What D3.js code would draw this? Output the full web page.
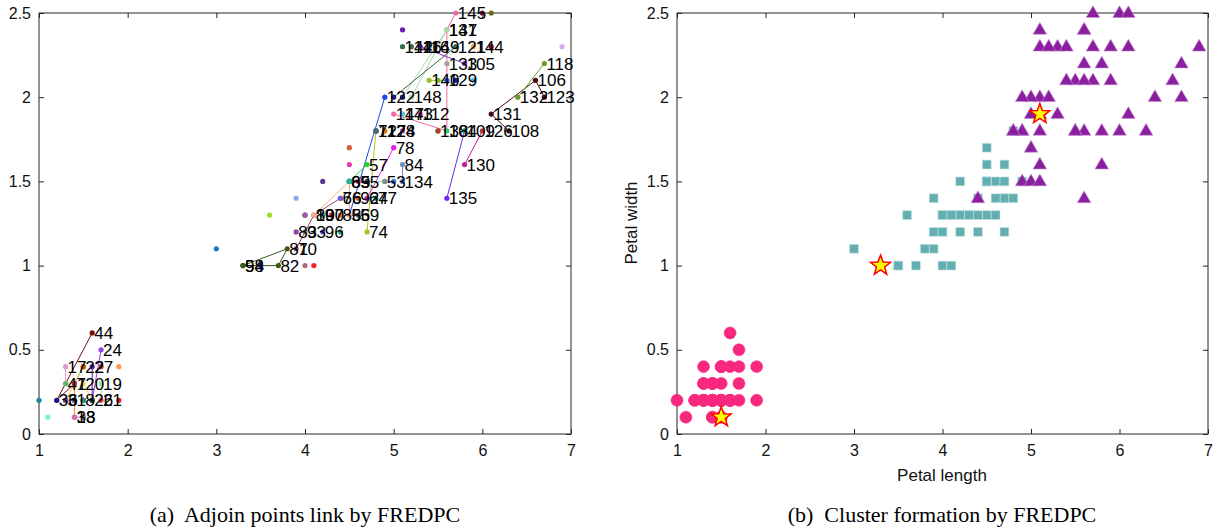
<!DOCTYPE html>
<html>
<head>
<meta charset="utf-8">
<script src="https://cdn.jsdelivr.net/npm/d3@7"></script>
<style>
  body { margin: 0; background: #fff; }
  text { font-family: "Liberation Sans", Arial, sans-serif; }
  .caption { font-family: "Liberation Serif", "Times New Roman", serif; }
</style>
</head>
<body>
<svg id="chart" width="1218" height="531"></svg>
<script>
// iris petal measurements, sample 1..150
const petalLength = [
  1.4,1.4,1.3,1.5,1.4,1.7,1.4,1.5,1.4,1.5, 1.5,1.6,1.4,1.1,1.2,1.5,1.3,1.4,1.7,1.5,
  1.7,1.5,1.0,1.7,1.9,1.6,1.6,1.5,1.4,1.6, 1.6,1.5,1.5,1.4,1.5,1.2,1.3,1.4,1.3,1.5,
  1.3,1.3,1.3,1.6,1.9,1.4,1.6,1.4,1.5,1.4, 4.7,4.5,4.9,4.0,4.6,4.5,4.7,3.3,4.6,3.9,
  3.5,4.2,4.0,4.7,3.6,4.4,4.5,4.1,4.5,3.9, 4.8,4.0,4.9,4.7,4.3,4.4,4.8,5.0,4.5,3.5,
  3.8,3.7,3.9,5.1,4.5,4.5,4.7,4.4,4.1,4.0, 4.4,4.6,4.0,3.3,4.2,4.2,4.2,4.3,3.0,4.1,
  6.0,5.1,5.9,5.6,5.8,6.6,4.5,6.3,5.8,6.1, 5.1,5.3,5.5,5.0,5.1,5.3,5.5,6.7,6.9,5.0,
  5.7,4.9,6.7,4.9,5.7,6.0,4.8,4.9,5.6,5.8, 6.1,6.4,5.6,5.1,5.6,6.1,5.6,5.5,4.8,5.4,
  5.6,5.1,5.1,5.9,5.7,5.2,5.0,5.2,5.4,5.1
];
const petalWidth = [
  0.2,0.2,0.2,0.2,0.2,0.4,0.3,0.2,0.2,0.1, 0.2,0.2,0.1,0.1,0.2,0.4,0.4,0.3,0.3,0.3,
  0.2,0.4,0.2,0.5,0.2,0.2,0.4,0.2,0.2,0.2, 0.2,0.4,0.1,0.2,0.2,0.2,0.2,0.1,0.2,0.2,
  0.3,0.3,0.2,0.6,0.4,0.3,0.2,0.2,0.2,0.2, 1.4,1.5,1.5,1.3,1.5,1.3,1.6,1.0,1.3,1.4,
  1.0,1.5,1.0,1.4,1.3,1.4,1.5,1.0,1.5,1.1, 1.8,1.3,1.5,1.2,1.3,1.4,1.4,1.7,1.5,1.0,
  1.1,1.0,1.2,1.6,1.5,1.6,1.5,1.3,1.3,1.3, 1.2,1.4,1.2,1.0,1.3,1.2,1.3,1.3,1.1,1.3,
  2.5,1.9,2.1,1.8,2.2,2.1,1.7,1.8,1.8,2.5, 2.0,1.9,2.1,2.0,2.4,2.3,1.8,2.2,2.3,1.5,
  2.3,2.0,2.0,1.8,2.1,1.8,1.8,1.8,2.1,1.6, 1.9,2.0,2.2,1.5,1.4,2.3,2.4,1.8,1.8,2.1,
  2.4,2.3,1.9,2.3,2.5,2.3,1.9,2.0,2.3,1.8
];

// cluster found by FREDPC for each sample (1 circle, 2 square, 3 triangle)
const clusterOf = [
  1,1,1,1,1,1,1,1,1,1, 1,1,1,1,1,1,1,1,1,1, 1,1,1,1,1,1,1,1,1,1, 1,1,1,1,1,1,1,1,1,1,
  1,1,1,1,1,1,1,1,1,1, 2,2,2,2,2,2,2,2,2,2, 2,2,2,2,2,3,2,2,2,2, 2,2,3,2,2,2,2,3,2,2,
  2,2,2,3,2,2,2,2,2,2, 2,2,2,2,2,2,2,2,2,2, 3,3,3,3,3,3,2,3,3,3, 3,3,3,3,3,3,3,3,3,3,
  3,3,3,3,3,3,3,3,3,3, 3,3,3,3,3,3,3,3,3,3, 3,3,3,3,3,3,3,3,3,3
];
const centers = [10, 58, 102];

// adjoin links [from, to] (sample numbers)
const adjoinLinks = [
  [44,36],[24,26],[17,41],[27,26],[22,7],[13,7],[19,21],[7,36],[20,31],[16,3],[38,10],
  [58,81],[82,58],[82,81],[70,89],[89,66],[100,52],[56,85],[122,56],[74,71],[57,69],
  [78,64],[84,134],[53,55],[135,109],[130,126],[131,106],[123,106],[108,131],[118,132],
  [145,137],[137,104],[147,104],[116,105],[141,148],[141,111],[121,114],[140,129]
];
const labelled = [
  44,24,17,22,27,41,7,20,19,36,3,1,8,26,21,13,38,
  58,94,82,81,70,83,93,96,89,100,97,88,56,59,66,76,92,64,77,69,85,55,53,134,57,84,78,74,
  71,127,124,128,122,148,147,143,112,138,104,109,126,108,131,132,123,106,118,140,129,133,105,
  142,146,116,149,121,144,137,141,145,130,135
];

const xTicks = [1, 2, 3, 4, 5, 6, 7];
const yTicks = [0, 0.5, 1, 1.5, 2, 2.5];

const palette = ["#3a7bd5","#d9534f","#5cb85c","#8e44ad","#f0ad4e","#1abc9c","#c0392b","#2c3e50",
  "#e67e22","#16a085","#9b59b6","#27ae60","#d35400","#7f8c8d","#2980b9","#e84393","#6c5ce7",
  "#00b894","#b33939","#4b6584"];
const dotOverride = {
  44:"#6e1414",24:"#8f45e8",17:"#e09ad0",27:"#5a20b0",22:"#5aa028",13:"#ff8a30",19:"#a5e88a",
  7:"#700f1f",45:"#ff9a50",25:"#e02030",23:"#1a8aa0",14:"#7af0d8",36:"#101a8a",41:"#d8e8d0",
  20:"#f0e040",10:"#e0a0d0",16:"#f0d060",38:"#d070c0",
  58:"#3d5a1a",82:"#3d5a1a",81:"#3d5a1a",94:"#3a5a20",80:"#4a1ab0",61:"#4a1ab0",63:"#b06a7a",
  68:"#ff2020",99:"#1a7ac8",65:"#98e030",60:"#8aa8f0",62:"#5a3a8a",86:"#e83ab0",107:"#d06030",
  70:"#8a4a6a",89:"#8a4a6a",100:"#f0b090",56:"#f0a080",122:"#1a4ae8",74:"#b8c020",71:"#30c040",
  57:"#2ad82a",78:"#e020e8",64:"#e020e8",84:"#6a8ac8",134:"#6a8ac8",53:"#90e0a0",135:"#6a2af0",
  130:"#c81a9a",131:"#4a0a1a",106:"#4a0a1a",123:"#4a0a1a",108:"#4a0a1a",118:"#6a9a2a",
  132:"#6a9a2a",145:"#f06aa8",137:"#f06aa8",141:"#a8d8a8",147:"#f06aa8",116:"#7a3ac8",
  105:"#7a3ac8",101:"#7a1030",110:"#6a6a10",119:"#d8a8f0",136:"#7a1030",115:"#6a1ab0",
  142:"#3a6a5a",146:"#3a6a5a",121:"#3a6a4a",103:"#50b8e0",125:"#1a1ab0",140:"#98c020",
  113:"#78c020",129:"#2a50f0",133:"#a0a0a0",114:"#1a1a7a",111:"#1a1a7a",148:"#a8d8a8",
  104:"#30d070",117:"#30d070",143:"#60c8e0",112:"#e040a0"
};
const dotColor = n => dotOverride[n] || palette[n % palette.length];

const points = petalLength.map((v, i) => ({ n: i + 1, x: v, y: petalWidth[i], c: clusterOf[i] }));

const svg = d3.select("#chart");
const axisColor = "#262626";

const y = d3.scaleLinear().domain([0, 2.5]).range([434, 13]);
const xa = d3.scaleLinear().domain([1, 7]).range([39, 571]);
const xb = d3.scaleLinear().domain([1, 7]).range([677, 1208]);

function frame(x) {
  const g = svg.append("g");
  const [r0, r1] = x.range();
  g.append("g").attr("transform", "translate(0,434)")
    .call(d3.axisBottom(x).tickValues(xTicks).tickSize(-5).tickSizeOuter(0).tickPadding(11).tickFormat(d3.format("d")));
  g.append("g").attr("transform", "translate(0,13)")
    .call(d3.axisTop(x).tickValues(xTicks).tickSize(-5).tickSizeOuter(0).tickFormat(""));
  g.append("g").attr("transform", `translate(${r0},0)`)
    .call(d3.axisLeft(y).tickValues(yTicks).tickSize(-5).tickSizeOuter(0).tickPadding(8).tickFormat(d => d));
  g.append("g").attr("transform", `translate(${r1},0)`)
    .call(d3.axisRight(y).tickValues(yTicks).tickSize(-5).tickSizeOuter(0).tickFormat(""));
  g.selectAll(".domain").remove();
  g.selectAll(".tick line").attr("stroke", axisColor);
  g.selectAll(".tick text").attr("fill", "#111").style("font-size", "16px")
    .style("font-family", "'Liberation Sans', Arial, sans-serif");
  g.append("rect").attr("x", r0).attr("y", 13).attr("width", r1 - r0).attr("height", 421)
    .attr("fill", "none").attr("stroke", axisColor).attr("stroke-width", 1);
  return g;
}

// (a) adjoin points link
frame(xa);
const byN = new Map(points.map(p => [p.n, p]));
const ga = svg.append("g");
ga.selectAll("line").data(adjoinLinks).join("line")
  .attr("x1", d => xa(byN.get(d[0]).x)).attr("y1", d => y(byN.get(d[0]).y))
  .attr("x2", d => xa(byN.get(d[1]).x)).attr("y2", d => y(byN.get(d[1]).y))
  .attr("stroke", d => dotColor(d[0])).attr("stroke-width", 1);
ga.selectAll("circle").data(points).join("circle")
  .attr("cx", d => xa(d.x)).attr("cy", d => y(d.y)).attr("r", 2.6)
  .attr("fill", d => dotColor(d.n));
ga.selectAll("text").data(labelled.map(n => byN.get(n))).join("text")
  .attr("x", d => xa(d.x) + 2).attr("y", d => y(d.y)).attr("dy", "0.36em")
  .style("font-size", "17px").attr("fill", "#000")
  .text(d => d.n);

// (b) cluster formation
frame(xb);
const gm = svg.append("g");
const shapes = { 1: d3.symbolCircle, 2: d3.symbolSquare, 3: d3.symbolTriangle };
const sizes = { 1: 112, 2: 78, 3: 80 };
const fills = { 1: "#f8287f", 2: "#62aeb0", 3: "#8a1fa0" };
const edges = { 1: "#f8287f", 2: "#c8e4e4", 3: "#c690d2" };
[1, 2, 3].forEach(c => {
  gm.append("g").selectAll("path").data(points.filter(p => p.c === c)).join("path")
    .attr("d", d3.symbol().type(shapes[c]).size(sizes[c]))
    .attr("transform", d => `translate(${xb(d.x)},${y(d.y) + (c === 3 ? 0.5 : 0)})`)
    .attr("fill", fills[c]).attr("stroke", edges[c]).attr("stroke-width", 0.6);
});
function starPath(R, r) {
  const pts = [];
  for (let k = 0; k < 10; k++) {
    const a = -Math.PI / 2 + k * Math.PI / 5;
    const rad = k % 2 === 0 ? R : r;
    pts.push([rad * Math.cos(a), rad * Math.sin(a)]);
  }
  return "M" + pts.map(p => p.join(",")).join("L") + "Z";
}
gm.append("g").selectAll("path").data(centers.map(n => byN.get(n))).join("path")
  .attr("d", starPath(10.5, 4.3))
  .attr("transform", d => `translate(${xb(d.x)},${y(d.y)})`)
  .attr("fill", "#ffff00").attr("stroke", "#ff0000").attr("stroke-width", 1.5);

svg.append("text").attr("x", 942).attr("y", 481).attr("text-anchor", "middle")
  .style("font-size", "17px").attr("fill", "#111").text("Petal length");
svg.append("text").attr("transform", "translate(637,223) rotate(-90)").attr("text-anchor", "middle")
  .style("font-size", "17px").attr("fill", "#111").text("Petal width");

svg.append("text").attr("class", "caption").attr("x", 305).attr("y", 522).attr("text-anchor", "middle")
  .style("font-size", "22px").attr("xml:space", "preserve").text("(a)  Adjoin points link by FREDPC");
svg.append("text").attr("class", "caption").attr("x", 942).attr("y", 522).attr("text-anchor", "middle")
  .style("font-size", "22px").attr("xml:space", "preserve").text("(b)  Cluster formation by FREDPC");
</script>
</body>
</html>
